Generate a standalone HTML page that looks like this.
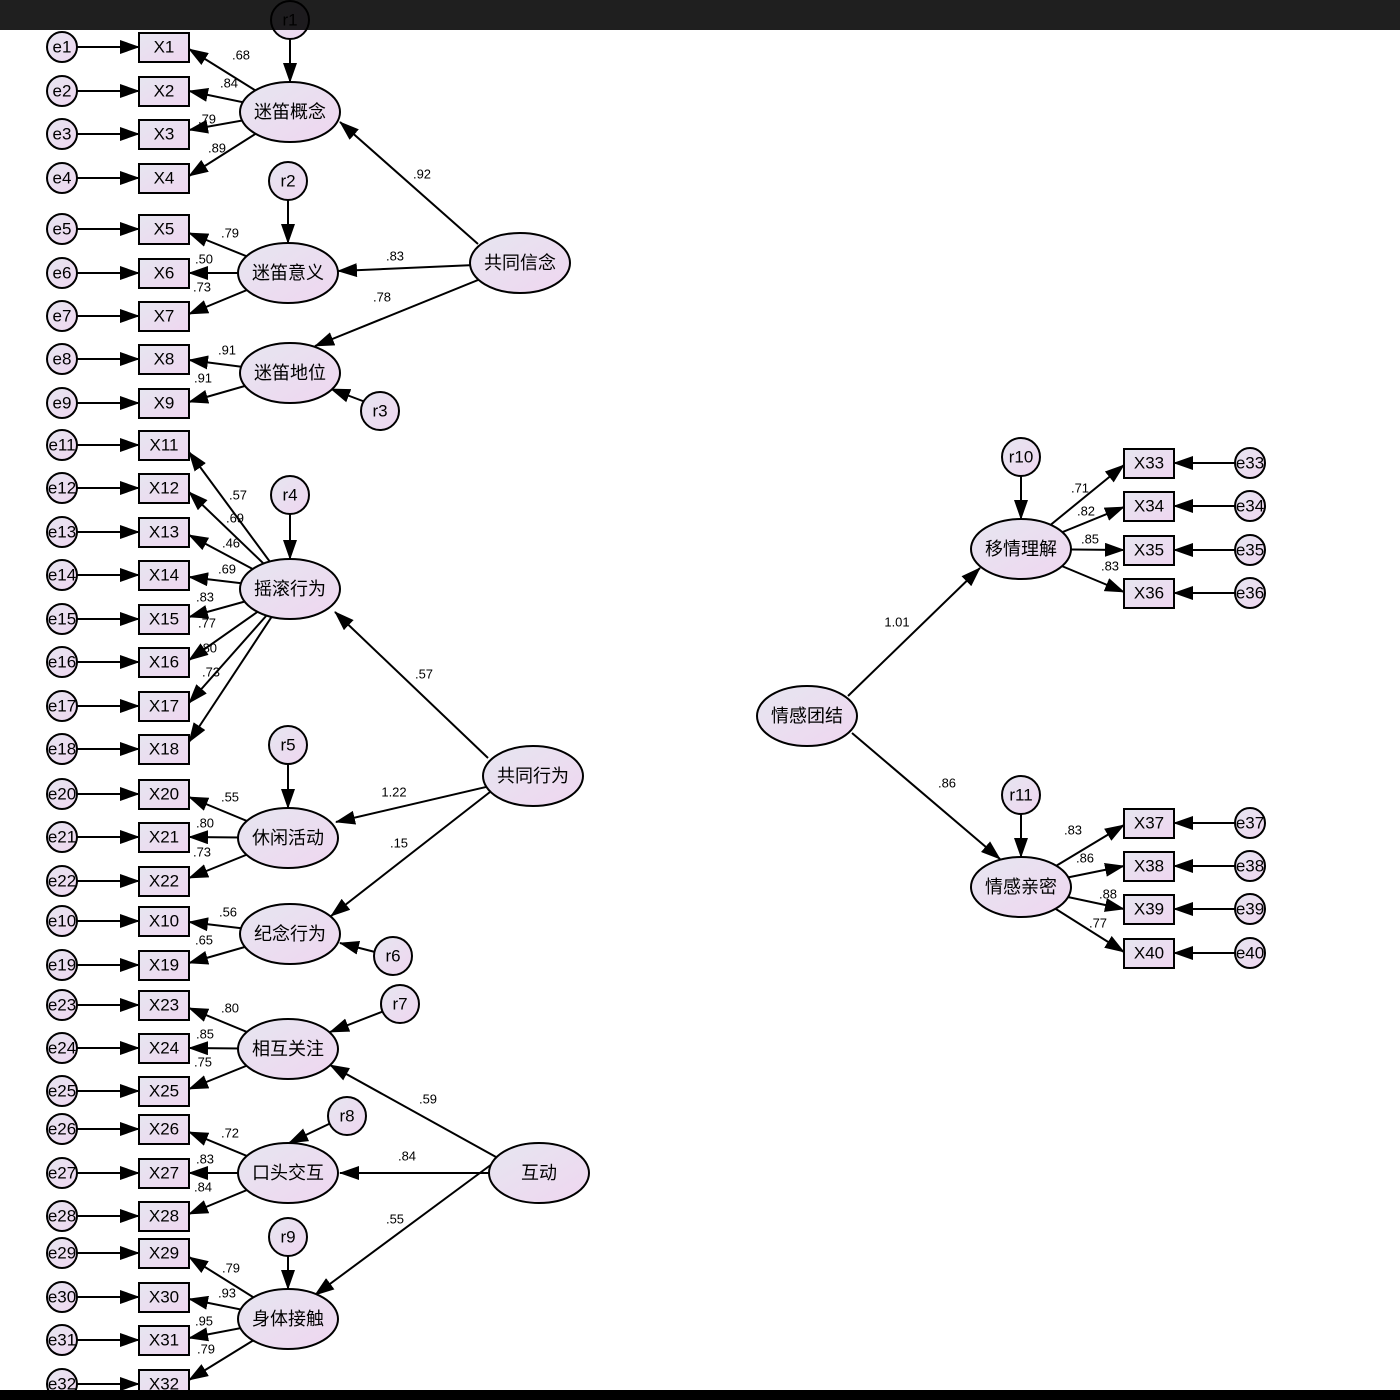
<!DOCTYPE html>
<html><head><meta charset="utf-8"><style>
html,body{margin:0;padding:0;background:#fff;}
svg{display:block;}
text{font-family:"Liberation Sans","Noto Sans CJK SC",sans-serif;fill:#000;}
.c{font-size:17px;text-anchor:middle;dominant-baseline:central;}
.z{font-size:18px;text-anchor:middle;dominant-baseline:central;}
.l{font-size:13px;text-anchor:middle;dominant-baseline:central;}
line{stroke:#000;stroke-width:2;}
.a{marker-end:url(#ah);}
ellipse,circle,rect{stroke:#000;stroke-width:2;fill:url(#g);}
</style></head><body>
<svg width="1400" height="1400" viewBox="0 0 1400 1400" xmlns="http://www.w3.org/2000/svg">
<defs>
<linearGradient id="g" x1="0" y1="0" x2="1" y2="1"><stop offset="0" stop-color="#e6e6f0"/><stop offset="1" stop-color="#efd6f0"/></linearGradient>
<marker id="ah" markerUnits="userSpaceOnUse" markerWidth="20" markerHeight="14" refX="19" refY="7" orient="auto"><path d="M0,0 L20,7 L0,14 Z" fill="#000"/></marker>
</defs>
<rect x="0" y="0" width="1400" height="1400" style="fill:#fff;stroke:none"/>

<g class="a">
<line x1="77" y1="47" x2="139" y2="47"/><line x1="77" y1="91" x2="139" y2="91"/><line x1="77" y1="134" x2="139" y2="134"/><line x1="77" y1="178" x2="139" y2="178"/>
<line x1="77" y1="229" x2="139" y2="229"/><line x1="77" y1="273" x2="139" y2="273"/><line x1="77" y1="316" x2="139" y2="316"/><line x1="77" y1="359" x2="139" y2="359"/>
<line x1="77" y1="403" x2="139" y2="403"/><line x1="77" y1="445" x2="139" y2="445"/><line x1="77" y1="488" x2="139" y2="488"/><line x1="77" y1="532" x2="139" y2="532"/>
<line x1="77" y1="575" x2="139" y2="575"/><line x1="77" y1="619" x2="139" y2="619"/><line x1="77" y1="662" x2="139" y2="662"/><line x1="77" y1="706" x2="139" y2="706"/>
<line x1="77" y1="749" x2="139" y2="749"/><line x1="77" y1="794" x2="139" y2="794"/><line x1="77" y1="837" x2="139" y2="837"/><line x1="77" y1="881" x2="139" y2="881"/>
<line x1="77" y1="921" x2="139" y2="921"/><line x1="77" y1="965" x2="139" y2="965"/><line x1="77" y1="1005" x2="139" y2="1005"/><line x1="77" y1="1048" x2="139" y2="1048"/>
<line x1="77" y1="1091" x2="139" y2="1091"/><line x1="77" y1="1129" x2="139" y2="1129"/><line x1="77" y1="1173" x2="139" y2="1173"/><line x1="77" y1="1216" x2="139" y2="1216"/>
<line x1="77" y1="1253" x2="139" y2="1253"/><line x1="77" y1="1297" x2="139" y2="1297"/><line x1="77" y1="1340" x2="139" y2="1340"/><line x1="77" y1="1384" x2="139" y2="1384"/>
<line x1="1235" y1="463" x2="1174" y2="463"/><line x1="1235" y1="506" x2="1174" y2="506"/><line x1="1235" y1="550" x2="1174" y2="550"/><line x1="1235" y1="593" x2="1174" y2="593"/>
<line x1="1235" y1="823" x2="1174" y2="823"/><line x1="1235" y1="866" x2="1174" y2="866"/><line x1="1235" y1="909" x2="1174" y2="909"/><line x1="1235" y1="953" x2="1174" y2="953"/>

<line x1="290" y1="112" x2="189" y2="49"/><line x1="290" y1="112" x2="189" y2="91"/><line x1="290" y1="112" x2="189" y2="130"/><line x1="290" y1="112" x2="189" y2="176"/>
<line x1="288" y1="273" x2="189" y2="233"/><line x1="288" y1="273" x2="189" y2="273"/><line x1="288" y1="273" x2="189" y2="314"/>
<line x1="290" y1="373" x2="189" y2="360"/><line x1="290" y1="373" x2="189" y2="402"/>
<line x1="290" y1="589" x2="189" y2="452"/><line x1="290" y1="589" x2="189" y2="492"/><line x1="290" y1="589" x2="189" y2="535"/><line x1="290" y1="589" x2="189" y2="577"/>
<line x1="290" y1="589" x2="189" y2="617"/><line x1="290" y1="589" x2="189" y2="660"/><line x1="290" y1="589" x2="189" y2="703"/><line x1="290" y1="589" x2="189" y2="742"/>
<line x1="288" y1="838" x2="189" y2="797"/><line x1="288" y1="838" x2="189" y2="837"/><line x1="288" y1="838" x2="189" y2="878"/>
<line x1="290" y1="934" x2="189" y2="922"/><line x1="290" y1="934" x2="189" y2="963"/>
<line x1="288" y1="1049" x2="189" y2="1008"/><line x1="288" y1="1049" x2="189" y2="1048"/><line x1="288" y1="1049" x2="189" y2="1089"/>
<line x1="288" y1="1173" x2="189" y2="1132"/><line x1="288" y1="1173" x2="189" y2="1173"/><line x1="288" y1="1173" x2="189" y2="1214"/>
<line x1="288" y1="1319" x2="189" y2="1257"/><line x1="288" y1="1319" x2="189" y2="1299"/><line x1="288" y1="1319" x2="189" y2="1338"/><line x1="288" y1="1319" x2="189" y2="1380"/>
<line x1="1021" y1="549" x2="1124" y2="465"/><line x1="1021" y1="549" x2="1124" y2="507"/><line x1="1021" y1="549" x2="1124" y2="550"/><line x1="1021" y1="549" x2="1124" y2="592"/>
<line x1="1021" y1="887" x2="1124" y2="825"/><line x1="1021" y1="887" x2="1124" y2="866"/><line x1="1021" y1="887" x2="1124" y2="909"/><line x1="1021" y1="887" x2="1124" y2="952"/>

<line x1="478" y1="244" x2="340" y2="122"/><line x1="520" y1="263" x2="338" y2="271"/><line x1="520" y1="263" x2="315" y2="346"/>
<line x1="488" y1="758" x2="335" y2="612"/><line x1="533" y1="776" x2="336" y2="822"/><line x1="490" y1="792" x2="331" y2="916"/>
<line x1="496" y1="1157" x2="330" y2="1065"/><line x1="539" y1="1173" x2="340" y2="1173"/><line x1="492" y1="1164" x2="315" y2="1295"/>
<line x1="848" y1="696" x2="980" y2="568"/><line x1="852" y1="733" x2="1000" y2="859"/>
<line x1="290" y1="38" x2="290" y2="82"/><line x1="288" y1="199" x2="288" y2="243"/><line x1="368" y1="403" x2="331" y2="389"/>
<line x1="290" y1="513" x2="290" y2="559"/><line x1="288" y1="763" x2="288" y2="808"/><line x1="375" y1="952" x2="340" y2="943"/>
<line x1="384" y1="1011" x2="330" y2="1032"/><line x1="331" y1="1123" x2="289" y2="1143"/><line x1="288" y1="1255" x2="288" y2="1289"/>
<line x1="1021" y1="475" x2="1021" y2="519"/><line x1="1021" y1="813" x2="1021" y2="857"/>
</g>

<g>
<circle cx="62" cy="47" r="15"/><circle cx="62" cy="91" r="15"/><circle cx="62" cy="134" r="15"/><circle cx="62" cy="178" r="15"/>
<circle cx="62" cy="229" r="15"/><circle cx="62" cy="273" r="15"/><circle cx="62" cy="316" r="15"/><circle cx="62" cy="359" r="15"/>
<circle cx="62" cy="403" r="15"/><circle cx="62" cy="445" r="15"/><circle cx="62" cy="488" r="15"/><circle cx="62" cy="532" r="15"/>
<circle cx="62" cy="575" r="15"/><circle cx="62" cy="619" r="15"/><circle cx="62" cy="662" r="15"/><circle cx="62" cy="706" r="15"/>
<circle cx="62" cy="749" r="15"/><circle cx="62" cy="794" r="15"/><circle cx="62" cy="837" r="15"/><circle cx="62" cy="881" r="15"/>
<circle cx="62" cy="921" r="15"/><circle cx="62" cy="965" r="15"/><circle cx="62" cy="1005" r="15"/><circle cx="62" cy="1048" r="15"/>
<circle cx="62" cy="1091" r="15"/><circle cx="62" cy="1129" r="15"/><circle cx="62" cy="1173" r="15"/><circle cx="62" cy="1216" r="15"/>
<circle cx="62" cy="1253" r="15"/><circle cx="62" cy="1297" r="15"/><circle cx="62" cy="1340" r="15"/><circle cx="62" cy="1384" r="15"/>
<circle cx="1250" cy="463" r="15"/><circle cx="1250" cy="506" r="15"/><circle cx="1250" cy="550" r="15"/><circle cx="1250" cy="593" r="15"/>
<circle cx="1250" cy="823" r="15"/><circle cx="1250" cy="866" r="15"/><circle cx="1250" cy="909" r="15"/><circle cx="1250" cy="953" r="15"/>
<circle cx="290" cy="20" r="19"/><circle cx="288" cy="181" r="19"/><circle cx="380" cy="411" r="19"/><circle cx="290" cy="495" r="19"/>
<circle cx="288" cy="745" r="19"/><circle cx="393" cy="956" r="19"/><circle cx="400" cy="1004" r="19"/><circle cx="347" cy="1116" r="19"/>
<circle cx="288" cy="1237" r="19"/><circle cx="1021" cy="457" r="19"/><circle cx="1021" cy="795" r="19"/>
</g>
<g>
<rect x="139" y="33" width="50" height="29"/><rect x="139" y="77" width="50" height="29"/><rect x="139" y="120" width="50" height="29"/><rect x="139" y="164" width="50" height="29"/>
<rect x="139" y="215" width="50" height="29"/><rect x="139" y="259" width="50" height="29"/><rect x="139" y="302" width="50" height="29"/><rect x="139" y="345" width="50" height="29"/>
<rect x="139" y="389" width="50" height="29"/><rect x="139" y="431" width="50" height="29"/><rect x="139" y="474" width="50" height="29"/><rect x="139" y="518" width="50" height="29"/>
<rect x="139" y="561" width="50" height="29"/><rect x="139" y="605" width="50" height="29"/><rect x="139" y="648" width="50" height="29"/><rect x="139" y="692" width="50" height="29"/>
<rect x="139" y="735" width="50" height="29"/><rect x="139" y="780" width="50" height="29"/><rect x="139" y="823" width="50" height="29"/><rect x="139" y="867" width="50" height="29"/>
<rect x="139" y="907" width="50" height="29"/><rect x="139" y="951" width="50" height="29"/><rect x="139" y="991" width="50" height="29"/><rect x="139" y="1034" width="50" height="29"/>
<rect x="139" y="1077" width="50" height="29"/><rect x="139" y="1115" width="50" height="29"/><rect x="139" y="1159" width="50" height="29"/><rect x="139" y="1202" width="50" height="29"/>
<rect x="139" y="1239" width="50" height="29"/><rect x="139" y="1283" width="50" height="29"/><rect x="139" y="1326" width="50" height="29"/><rect x="139" y="1370" width="50" height="29"/>
<rect x="1124" y="449" width="50" height="29"/><rect x="1124" y="492" width="50" height="29"/><rect x="1124" y="536" width="50" height="29"/><rect x="1124" y="579" width="50" height="29"/>
<rect x="1124" y="809" width="50" height="29"/><rect x="1124" y="852" width="50" height="29"/><rect x="1124" y="895" width="50" height="29"/><rect x="1124" y="939" width="50" height="29"/>
</g>
<g>
<ellipse cx="290" cy="112" rx="50" ry="30"/><ellipse cx="288" cy="273" rx="50" ry="30"/><ellipse cx="290" cy="373" rx="50" ry="30"/>
<ellipse cx="290" cy="589" rx="50" ry="30"/><ellipse cx="288" cy="838" rx="50" ry="30"/><ellipse cx="290" cy="934" rx="50" ry="30"/>
<ellipse cx="288" cy="1049" rx="50" ry="30"/><ellipse cx="288" cy="1173" rx="50" ry="30"/><ellipse cx="288" cy="1319" rx="50" ry="30"/>
<ellipse cx="520" cy="263" rx="50" ry="30"/><ellipse cx="533" cy="776" rx="50" ry="30"/><ellipse cx="539" cy="1173" rx="50" ry="30"/>
<ellipse cx="807" cy="716" rx="50" ry="30"/><ellipse cx="1021" cy="549" rx="50" ry="30"/><ellipse cx="1021" cy="887" rx="50" ry="30"/>
</g>

<g class="c">
<text x="62" y="47">e1</text><text x="62" y="91">e2</text><text x="62" y="134">e3</text><text x="62" y="178">e4</text>
<text x="62" y="229">e5</text><text x="62" y="273">e6</text><text x="62" y="316">e7</text><text x="62" y="359">e8</text>
<text x="62" y="403">e9</text><text x="62" y="445">e11</text><text x="62" y="488">e12</text><text x="62" y="532">e13</text>
<text x="62" y="575">e14</text><text x="62" y="619">e15</text><text x="62" y="662">e16</text><text x="62" y="706">e17</text>
<text x="62" y="749">e18</text><text x="62" y="794">e20</text><text x="62" y="837">e21</text><text x="62" y="881">e22</text>
<text x="62" y="921">e10</text><text x="62" y="965">e19</text><text x="62" y="1005">e23</text><text x="62" y="1048">e24</text>
<text x="62" y="1091">e25</text><text x="62" y="1129">e26</text><text x="62" y="1173">e27</text><text x="62" y="1216">e28</text>
<text x="62" y="1253">e29</text><text x="62" y="1297">e30</text><text x="62" y="1340">e31</text><text x="62" y="1384">e32</text>
<text x="1250" y="463">e33</text><text x="1250" y="506">e34</text><text x="1250" y="550">e35</text><text x="1250" y="593">e36</text>
<text x="1250" y="823">e37</text><text x="1250" y="866">e38</text><text x="1250" y="909">e39</text><text x="1250" y="953">e40</text>
<text x="290" y="20">r1</text><text x="288" y="181">r2</text><text x="380" y="411">r3</text><text x="290" y="495">r4</text>
<text x="288" y="745">r5</text><text x="393" y="956">r6</text><text x="400" y="1004">r7</text><text x="347" y="1116">r8</text>
<text x="288" y="1237">r9</text><text x="1021" y="457">r10</text><text x="1021" y="795">r11</text>
<text x="164" y="47">X1</text><text x="164" y="91">X2</text><text x="164" y="134">X3</text><text x="164" y="178">X4</text>
<text x="164" y="229">X5</text><text x="164" y="273">X6</text><text x="164" y="316">X7</text><text x="164" y="359">X8</text>
<text x="164" y="403">X9</text><text x="164" y="445">X11</text><text x="164" y="488">X12</text><text x="164" y="532">X13</text>
<text x="164" y="575">X14</text><text x="164" y="619">X15</text><text x="164" y="662">X16</text><text x="164" y="706">X17</text>
<text x="164" y="749">X18</text><text x="164" y="794">X20</text><text x="164" y="837">X21</text><text x="164" y="881">X22</text>
<text x="164" y="921">X10</text><text x="164" y="965">X19</text><text x="164" y="1005">X23</text><text x="164" y="1048">X24</text>
<text x="164" y="1091">X25</text><text x="164" y="1129">X26</text><text x="164" y="1173">X27</text><text x="164" y="1216">X28</text>
<text x="164" y="1253">X29</text><text x="164" y="1297">X30</text><text x="164" y="1340">X31</text><text x="164" y="1384">X32</text>
<text x="1149" y="463">X33</text><text x="1149" y="506">X34</text><text x="1149" y="550">X35</text><text x="1149" y="593">X36</text>
<text x="1149" y="823">X37</text><text x="1149" y="866">X38</text><text x="1149" y="909">X39</text><text x="1149" y="953">X40</text>
</g>
<g class="z">
<text x="290" y="112">迷笛概念</text><text x="288" y="273">迷笛意义</text><text x="290" y="373">迷笛地位</text>
<text x="290" y="589">摇滚行为</text><text x="288" y="838">休闲活动</text><text x="290" y="934">纪念行为</text>
<text x="288" y="1049">相互关注</text><text x="288" y="1173">口头交互</text><text x="288" y="1319">身体接触</text>
<text x="520" y="263">共同信念</text><text x="533" y="776">共同行为</text><text x="539" y="1173">互动</text>
<text x="807" y="716">情感团结</text><text x="1021" y="549">移情理解</text><text x="1021" y="887">情感亲密</text>
</g>
<g class="l">
<text x="241" y="55">.68</text><text x="229" y="83">.84</text><text x="207" y="119">.79</text><text x="217" y="148">.89</text>
<text x="422" y="174">.92</text><text x="230" y="233">.79</text><text x="204" y="259">.50</text><text x="202" y="287">.73</text>
<text x="395" y="256">.83</text><text x="382" y="297">.78</text><text x="227" y="350">.91</text><text x="203" y="378">.91</text>
<text x="238" y="495">.57</text><text x="235" y="518">.69</text><text x="231" y="543">.46</text><text x="227" y="569">.69</text>
<text x="205" y="597">.83</text><text x="207" y="623">.77</text><text x="208" y="648">.80</text><text x="211" y="672">.73</text>
<text x="424" y="674">.57</text><text x="230" y="797">.55</text><text x="205" y="823">.80</text><text x="202" y="852">.73</text>
<text x="394" y="792">1.22</text><text x="399" y="843">.15</text><text x="228" y="912">.56</text><text x="204" y="940">.65</text>
<text x="230" y="1008">.80</text><text x="205" y="1034">.85</text><text x="203" y="1062">.75</text><text x="428" y="1099">.59</text>
<text x="230" y="1133">.72</text><text x="205" y="1159">.83</text><text x="203" y="1187">.84</text><text x="407" y="1156">.84</text>
<text x="395" y="1219">.55</text><text x="231" y="1268">.79</text><text x="227" y="1293">.93</text><text x="204" y="1321">.95</text>
<text x="206" y="1349">.79</text>
<text x="897" y="622">1.01</text><text x="947" y="783">.86</text><text x="1080" y="488">.71</text><text x="1086" y="511">.82</text>
<text x="1090" y="539">.85</text><text x="1110" y="566">.83</text><text x="1073" y="830">.83</text><text x="1085" y="858">.86</text>
<text x="1108" y="894">.88</text><text x="1098" y="923">.77</text>
</g>
<rect x="0" y="0" width="1400" height="30" style="fill:#000;stroke:none;opacity:0.88"/>
<rect x="0" y="1390" width="1400" height="10" style="fill:#000;stroke:none"/>
</svg>
</body></html>
